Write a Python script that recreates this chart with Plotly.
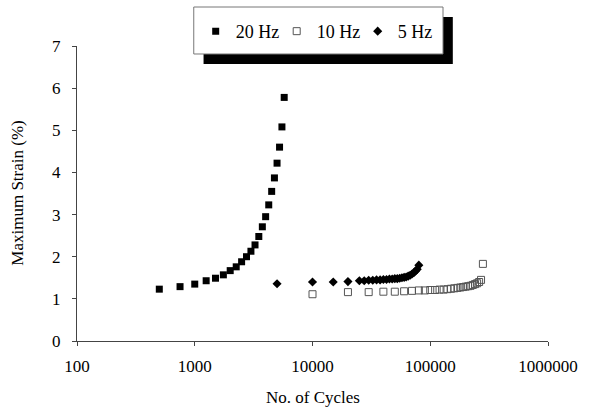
import plotly.graph_objects as go

# Maximum strain (%) against number of loading cycles at three frequencies
cycles_20hz = [500, 750, 1000, 1250, 1500, 1750, 2000, 2250, 2500, 2750, 3000,
               3250, 3500, 3750, 4000, 4250, 4500, 4750, 5000, 5250, 5500, 5750]
strain_20hz = [1.23, 1.29, 1.35, 1.43, 1.49, 1.57, 1.67, 1.76, 1.88, 2.00, 2.13,
               2.28, 2.48, 2.71, 2.95, 3.23, 3.55, 3.87, 4.22, 4.60, 5.08, 5.78]

cycles_10hz = [10000, 20000, 30000, 40000, 50000, 60000, 70000, 80000, 90000,
               100000, 110000, 120000, 130000, 140000, 150000, 160000, 170000,
               180000, 190000, 200000, 210000, 220000, 230000, 240000, 250000,
               260000, 270000, 280000]
strain_10hz = [1.11, 1.16, 1.16, 1.17, 1.17, 1.18, 1.19, 1.20, 1.20,
               1.21, 1.21, 1.22, 1.22, 1.23, 1.24, 1.25, 1.26,
               1.27, 1.28, 1.29, 1.30, 1.31, 1.33, 1.35, 1.37,
               1.40, 1.45, 1.83]

cycles_5hz = [5000, 10000, 15000, 20000, 25000, 27500, 30000, 32500, 35000, 37500,
              40000, 42500, 45000, 47500, 50000, 52500, 55000, 57500, 60000,
              62500, 65000, 67500, 70000, 72500, 75000, 77500, 80000]
strain_5hz = [1.36, 1.40, 1.40, 1.41, 1.43, 1.43, 1.44, 1.44, 1.45, 1.45,
              1.46, 1.46, 1.47, 1.47, 1.48, 1.48, 1.49, 1.50, 1.51,
              1.52, 1.54, 1.56, 1.59, 1.62, 1.66, 1.70, 1.80]

x_ticks = [100, 1000, 10000, 100000, 1000000]
x_labels = ["100", "1000", "10000", "100000", "1000000"]
y_ticks = [0, 1, 2, 3, 4, 5, 6, 7]

FONT = "Liberation Serif, Times New Roman, serif"

fig = go.Figure()
fig.add_trace(go.Scatter(
    x=cycles_20hz, y=strain_20hz, mode="markers", name="20 Hz",
    marker=dict(symbol="square", size=7, color="black"),
))
fig.add_trace(go.Scatter(
    x=cycles_10hz, y=strain_10hz, mode="markers", name="10 Hz",
    marker=dict(symbol="square-open", size=7, color="#555555",
                line=dict(width=1)),
))
fig.add_trace(go.Scatter(
    x=cycles_5hz, y=strain_5hz, mode="markers", name="5 Hz",
    marker=dict(symbol="diamond", size=7, color="black"),
))

# Legend frame with a solid drop shadow
fig.add_shape(type="rect", xref="paper", yref="paper",
              x0=0.2687, x1=0.7979, y0=0.9390, y1=1.0983,
              fillcolor="black", line=dict(width=0), layer="above")
fig.add_shape(type="rect", xref="paper", yref="paper",
              x0=0.2479, x1=0.7771, y0=0.9729, y1=1.1322,
              fillcolor="white", line=dict(color="#777777", width=1),
              layer="above")

# Axis titles
fig.add_annotation(text="No. of Cycles", xref="paper", yref="paper",
                   x=0.502, y=-0.19, xanchor="center", yanchor="middle",
                   showarrow=False,
                   font=dict(family=FONT, size=17, color="black"))
fig.add_annotation(text="Maximum Strain (%)", xref="paper", yref="paper",
                   x=-0.127, y=0.5, xanchor="center", yanchor="middle",
                   textangle=-90, showarrow=False,
                   font=dict(family=FONT, size=17, color="black"))

fig.update_layout(
    width=590, height=410,
    margin=dict(l=77, r=33, t=46, b=69),
    paper_bgcolor="white", plot_bgcolor="white",
    font=dict(family=FONT, size=17, color="black"),
    showlegend=True,
    legend=dict(
        orientation="h", x=0.252, xanchor="left", y=1.112, yanchor="top",
        bgcolor="rgba(0,0,0,0)", borderwidth=0,
        entrywidth=36, entrywidthmode="pixels",
        font=dict(family=FONT, size=18, color="black"),
        itemclick=False, itemdoubleclick=False,
    ),
    xaxis=dict(
        type="log", range=[2, 6], tickvals=x_ticks, ticktext=x_labels,
        showgrid=False, zeroline=False, showline=True,
        linecolor="#444444", linewidth=1,
        ticks="outside", ticklen=4, tickcolor="#444444",
        ticklabelstandoff=6,
    ),
    yaxis=dict(
        range=[0, 7], tickvals=y_ticks,
        showgrid=False, zeroline=False, showline=True,
        linecolor="#444444", linewidth=1,
        ticks="outside", ticklen=4, tickcolor="#444444",
        ticklabelstandoff=8,
    ),
)

fig.write_html("out.html")
